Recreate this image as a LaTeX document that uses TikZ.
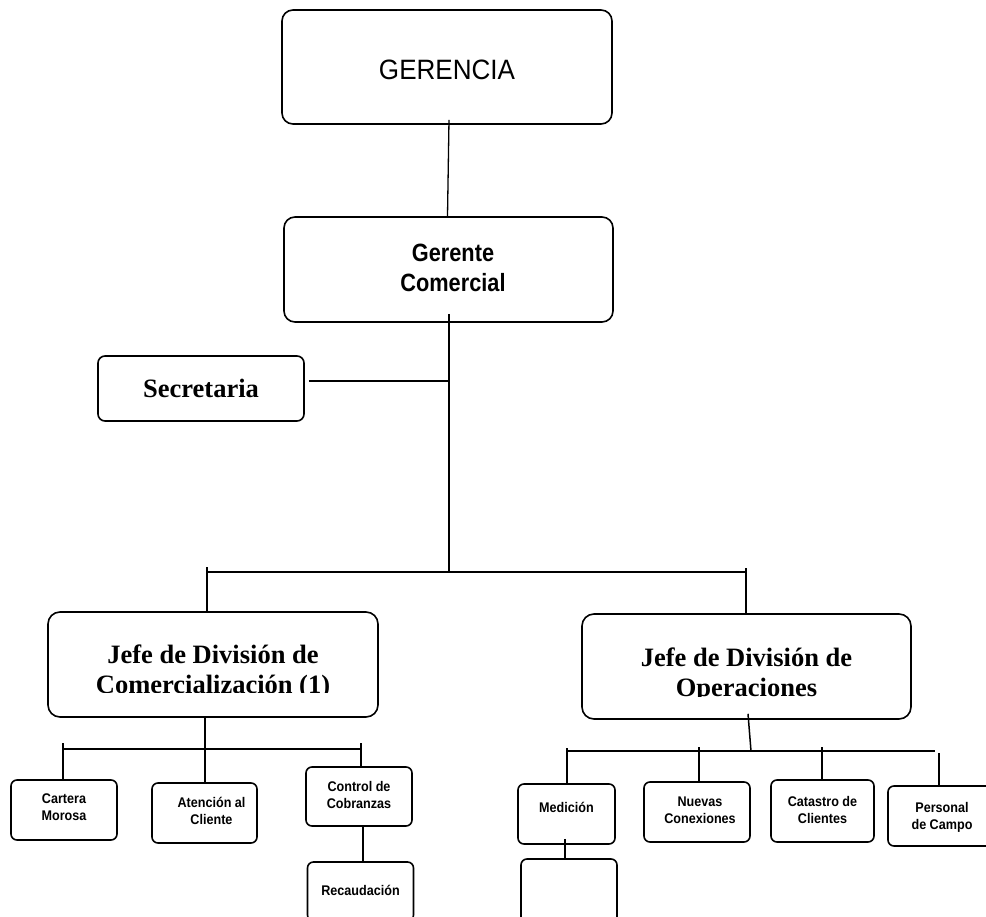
\documentclass[tikz,border=0pt]{standalone}
\usepackage{fontspec}
\setmainfont{Liberation Serif}
\newfontfamily\arialg[FakeStretch=0.93]{Liberation Sans}
\newfontfamily\arialc[FakeStretch=0.87]{Liberation Sans}
\newfontfamily\arials[FakeStretch=0.9]{Liberation Sans}
% text block whose last baseline sits (#2 - #3)/2 below the box centre
\newcommand{\boxtext}[4][0pt]{\hspace*{#1}\raisebox{0pt}[#2][#3]{\begin{tabular}[b]{@{}c@{}}#4\end{tabular}}}
\begin{document}
\begin{tikzpicture}[x=1pt,y=-1pt,
  orgbox/.style={draw=black, line width=1.6pt, inner sep=0pt, rounded corners=#1},
  orgbox/.default=6pt,
  bsize/.style 2 args={minimum width=#1pt, minimum height=#2pt},
  topfont/.style={font=\arialg\fontsize{28}{32}\selectfont},
  gcfont/.style={font=\arialc\bfseries\fontsize{25}{30}\selectfont},
  serfont/.style={font=\bfseries\fontsize{26.5}{30}\selectfont},
  smallfont/.style={font=\arials\bfseries\fontsize{14}{17}\selectfont},
  conn/.style={draw=black, line width=1.5pt}]
\useasboundingbox[fill=white] (0,0) rectangle (986,917);

% ---- boxes ----
\node[orgbox=11pt, bsize={330}{114}, topfont] (ger) at (447,67)
  {\boxtext{26pt}{0pt}{GERENCIA}};
\node[orgbox=11pt, bsize={329}{105}, gcfont] (gc) at (448.5,269.5)
  {\boxtext[9pt]{45pt}{0pt}{Gerente\\Comercial}};
\node[orgbox=7pt, bsize={206}{65}, serfont] (sec) at (201,388.5)
  {\boxtext{19pt}{0pt}{Secretaria}};
\node[orgbox=12pt, bsize={330}{105}, serfont] (jc) at (213,664.5)
  {\boxtext{57pt}{0pt}{Jefe de División de\\Comercialización (1)}};
\node[orgbox=12pt, bsize={329}{105}, serfont] (jo) at (746.5,666.5)
  {\boxtext{59pt}{0pt}{Jefe de División de\\Operaciones}};
% text of the two division boxes is cut off at its baseline, as in the original
\fill[white] (54,693.4) rectangle (372,712);
\fill[white] (588,696.6) rectangle (905,711);

\node[orgbox, bsize={106}{60}, smallfont] (cm) at (64,810)
  {\boxtext{20pt}{0pt}{Cartera\\Morosa}};
\node[orgbox, bsize={105}{60}, smallfont] (at) at (204.5,813)
  {\boxtext[14pt]{22pt}{0pt}{Atención al\\Cliente}};
\node[orgbox, bsize={106}{59}, smallfont] (cc) at (359,796.5)
  {\boxtext{23pt}{0pt}{Control de\\Cobranzas}};
\node[orgbox, bsize={106}{59}, smallfont] (rc) at (360.5,891.5)
  {\boxtext{7pt}{0pt}{Recaudación}};

\node[orgbox, bsize={97}{60}, smallfont] (me) at (566.5,814)
  {\boxtext{0pt}{4pt}{Medición}};
\node[orgbox, bsize={96}{64}] (em) at (569,891) {};
\node[orgbox, bsize={106}{60}, smallfont] (nc) at (697,812)
  {\boxtext[6pt]{22pt}{0pt}{Nuevas\\Conexiones}};
\node[orgbox, bsize={103}{62}, smallfont] (ca) at (822.5,811)
  {\boxtext{24pt}{0pt}{Catastro de\\Clientes}};
\node[orgbox, bsize={108}{60}, smallfont] (pc) at (942,816)
  {\boxtext{26pt}{0pt}{Personal\\de Campo}};

% ---- connectors ----
\coordinate (mj) at (449,572);
\coordinate (sj) at (449,381);
\coordinate (bl) at (207,572);
\coordinate (br) at (746,572);
\coordinate (cj) at (205,749);
\coordinate (cbl) at (63,749);
\coordinate (cbr) at (361,749);
\coordinate (cr) at (363,840);
\coordinate (oj) at (751,751);
\coordinate (obl) at (567,751);
\coordinate (obr) at (935,751);
\coordinate (on) at (699,751);
\coordinate (oc) at (822,751);
\coordinate (op) at (939,753);
\coordinate (mx) at (565,850);

\draw[conn, line width=1.3pt] ([xshift=2pt,yshift=5pt]ger.south) -- ([xshift=-1pt]gc.north);
\draw[conn] ([xshift=0.5pt,yshift=9pt]gc.south) -- (mj);
\draw[conn] ([xshift=4pt,yshift=7.5pt]sec.east) -- (sj);
\draw[conn] (bl) -- (br);
\draw[conn] ([yshift=5pt]bl) -- (bl |- jc.north);
\draw[conn] ([yshift=4pt]br) -- (br |- jo.north);

\draw[conn] (cj |- jc.south) -- (cj |- at.north);
\draw[conn] (cbl) -- (cbr);
\draw[conn] ([yshift=6pt]cbl) -- (cbl |- cm.north);
\draw[conn] ([yshift=6pt]cbr) -- (cbr |- cc.north);
\draw[conn] (cr |- cc.south) -- (cr |- rc.north);

\draw[conn] ([xshift=1.5pt,yshift=6pt]jo.south) -- (oj);
\draw[conn] (obl) -- (obr);
\draw[conn] ([yshift=3pt]obl) -- (obl |- me.north);
\draw[conn] ([yshift=4pt]on) -- (on |- nc.north);
\draw[conn] ([yshift=4pt]oc) -- (oc |- ca.north);
\draw[conn] (op) -- (op |- pc.north);
\draw[conn] ([yshift=6pt]mx |- me.south) -- (mx |- em.north);
\end{tikzpicture}
\end{document}
